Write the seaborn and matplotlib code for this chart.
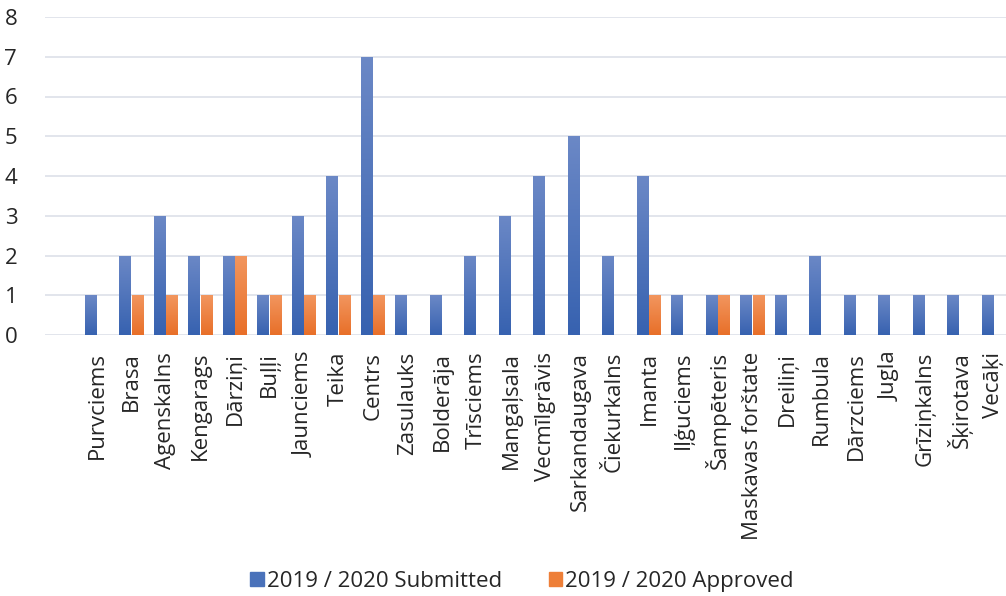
#!/usr/bin/env python3

import numpy as np
import pandas
import seaborn as sns
import matplotlib.pyplot as plt
from matplotlib.colors import LinearSegmentedColormap, to_rgba

districts = [
    "Purvciems", "Brasa", "Agenskalns", "Kengarags", "Dārziņi", "Buļļi",
    "Jaunciems", "Teika", "Centrs", "Zasulauks", "Bolderāja", "Trīsciems",
    "Mangaļsala", "Vecmīlgrāvis", "Sarkandaugava", "Čiekurkalns", "Imanta",
    "Iļģuciems", "Šampēteris", "Maskavas forštate", "Dreiliņi", "Rumbula",
    "Dārzciems", "Jugla", "Grīziņkalns", "Šķirotava", "Vecāķi",
]
submitted = [1, 2, 3, 2, 2, 1, 3, 4, 7, 1, 1, 2, 3, 4, 5, 2, 4, 1, 1, 1, 1, 2, 1, 1, 1, 1, 1]
approved = [0, 1, 1, 1, 2, 1, 1, 1, 1, 0, 0, 0, 0, 0, 0, 0, 1, 0, 1, 1, 0, 0, 0, 0, 0, 0, 0]
series = ["2019 / 2020 Submitted", "2019 / 2020 Approved"]
colors = ["#4A72BA", "#EE7F38"]
# excel-ish gradient ends (top, bottom) per series
gradients = [("#6B88C6", "#3762B0"), ("#F2965E", "#E86F29")]


def shade_bars(ax):
    """
    Replace the flat fill of each bar with a vertical gradient.
    """
    grad = np.linspace(1, 0, 64).reshape(-1, 1)
    for patch in list(ax.patches):
        h = patch.get_height()
        if h <= 0:
            continue
        face = to_rgba(patch.get_facecolor())
        idx = int(np.argmin([np.sum((np.array(face[:3]) - np.array(to_rgba(c)[:3])) ** 2) for c in colors]))
        cmap = LinearSegmentedColormap.from_list("g", [gradients[idx][1], gradients[idx][0]])
        x0 = patch.get_x()
        w = patch.get_width()
        im = ax.imshow(
            grad,
            cmap=cmap,
            extent=(x0, x0 + w, 0, h),
            aspect="auto",
            zorder=4,
            interpolation="bicubic",
        )
        im.set_clip_path(patch)


def main():
    rows = []
    for name, s, a in zip(districts, submitted, approved):
        rows.append([name, s, series[0]])
        rows.append([name, a, series[1]])
    df = pandas.DataFrame(rows, columns=["district", "count", "series"])

    sns.set_style("white")
    plt.rcParams["font.family"] = ["Open Sans", "DejaVu Sans"]

    fig = plt.figure(figsize=(10.06, 5.96), dpi=100)
    ax = fig.add_axes([45 / 1006, 261 / 596, 961 / 1006, 318 / 596])

    sns.barplot(
        data=df,
        x="district",
        y="count",
        hue="series",
        palette=dict(zip(series, colors)),
        width=0.74,
        gap=0.08,
        saturation=1,
        linewidth=0,
        ax=ax,
        legend=False,
        zorder=3,
    )
    shade_bars(ax)

    ax.set_xlim(-1.507, 26.35)
    ax.set_ylim(0, 8)
    ax.set_yticks(range(0, 9))
    ax.yaxis.grid(True, color="#DFE3EA", linewidth=1.3, zorder=0)
    ax.set_axisbelow(True)
    for spine in ax.spines.values():
        spine.set_visible(False)
    ax.set_xlabel("")
    ax.set_ylabel("")
    ax.tick_params(axis="y", length=0, pad=20, labelsize=16, labelcolor="#262626")
    ax.tick_params(axis="x", length=0, pad=12, labelsize=16, labelcolor="#262626")
    ax.set_xticks(range(len(districts)))
    ax.set_xticklabels(districts, rotation=90)

    handles = [plt.Rectangle((0, 0), 1, 1, color=c) for c in colors]
    fig.legend(
        handles,
        series,
        loc="center",
        bbox_to_anchor=(0.519, 0.025),
        ncol=2,
        frameon=False,
        fontsize=16,
        handlelength=0.6,
        handleheight=0.6,
        handletextpad=0.15,
        columnspacing=2.1,
        labelcolor="#262626",
    )

    fig.savefig("out.png", dpi=100)


if __name__ == "__main__":
    main()
